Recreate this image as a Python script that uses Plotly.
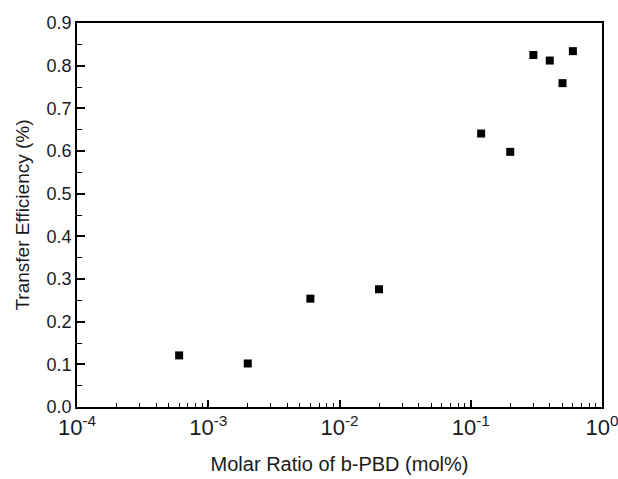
import plotly.graph_objects as go

# Data
molar_ratio = [0.0006, 0.002, 0.006, 0.02, 0.12, 0.2, 0.3, 0.4, 0.5, 0.6]
efficiency = [0.121, 0.102, 0.254, 0.276, 0.641, 0.598, 0.825, 0.812, 0.759, 0.834]

x_tickvals = [1e-4, 1e-3, 1e-2, 1e-1, 1]
x_ticktext = ["10<sup>-4</sup>", "10<sup>-3</sup>", "10<sup>-2</sup>", "10<sup>-1</sup>", "10<sup>0</sup>"]
x_minor = [m * 10 ** e for e in (-4, -3, -2, -1) for m in range(2, 10)]

font_family = "Liberation Sans, Arial, sans-serif"
text_color = "#1a1a1a"

fig = go.Figure()
fig.add_trace(go.Scatter(
    x=molar_ratio, y=efficiency, mode="markers",
    marker=dict(symbol="square", size=8, color="black", line=dict(width=0)),
    showlegend=False,
))

fig.update_layout(
    width=618, height=479,
    margin=dict(l=77, r=16, t=23, b=72),
    paper_bgcolor="white", plot_bgcolor="white",
    font=dict(family=font_family, color=text_color),
)

fig.update_xaxes(
    type="log", range=[-4, 0], automargin=False, ticklabeloverflow="allow",
    tickmode="array", tickvals=x_tickvals, ticktext=x_ticktext,
    tickfont=dict(size=22, family=font_family, color=text_color),
    ticks="inside", ticklen=7, tickwidth=1.5, tickcolor="black",
    minor=dict(tickmode="array", tickvals=x_minor, ticks="inside", ticklen=4,
               tickwidth=1.2, tickcolor="black", showgrid=False),
    showline=True, linecolor="black", linewidth=1.5, mirror=True,
    showgrid=False, zeroline=False,
    title=dict(text="Molar Ratio of b-PBD (mol%)", font=dict(size=20, family=font_family, color=text_color), standoff=18),
)

fig.update_yaxes(
    range=[0, 0.9], automargin=False, tickmode="linear", tick0=0, dtick=0.1, tickformat=".1f",
    tickfont=dict(size=18, family=font_family, color=text_color),
    ticks="inside", ticklen=8, tickwidth=1.5, tickcolor="black",
    minor=dict(dtick=0.05, ticks="inside", ticklen=5, tickwidth=1.2, tickcolor="black", showgrid=False),
    showline=True, linecolor="black", linewidth=1.5, mirror=True,
    showgrid=False, zeroline=False,
    title=dict(text="Transfer Efficiency (%)", font=dict(size=19, family=font_family, color=text_color), standoff=12),
)

fig.write_html("out.html")
